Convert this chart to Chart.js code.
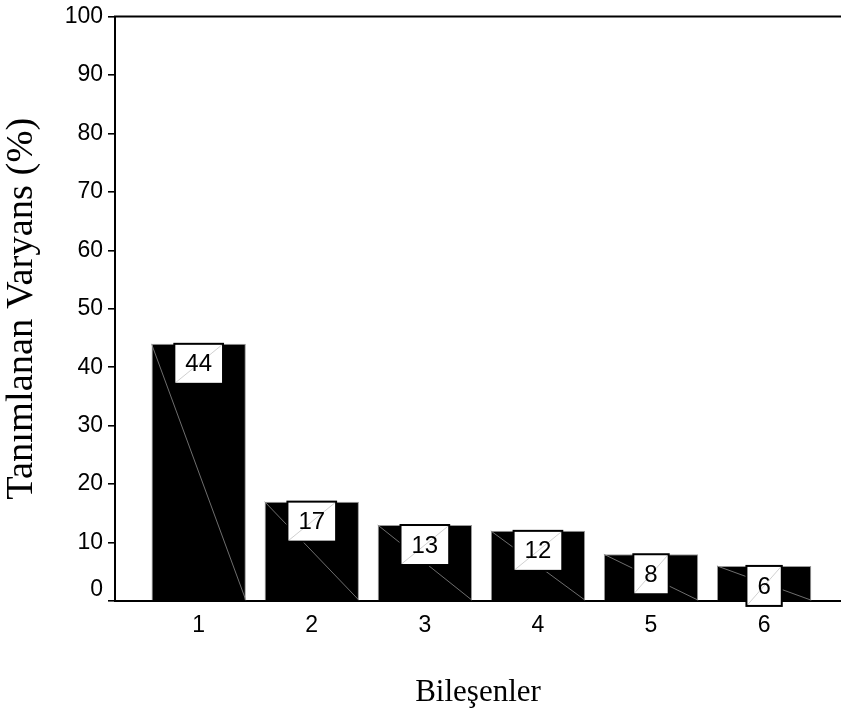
<!DOCTYPE html>
<html>
<head>
<meta charset="utf-8">
<script src="https://cdn.jsdelivr.net/npm/chart.js@4/dist/chart.umd.min.js"></script>
<style>
  html, body { margin: 0; padding: 0; background: #fff; overflow: hidden; }
  #wrap { width: 841px; height: 711px; }
</style>
</head>
<body>
<div id="wrap"><canvas id="c" width="841" height="711"></canvas></div>
<script>
// Bileşen numaraları ve açıklanan varyans yüzdeleri
const components = [1, 2, 3, 4, 5, 6];
const componentLabels = ['1', '2', '3', '4', '5', '6'];
const explainedVariance = [44, 17, 13, 12, 8, 6];
const yTicks = [0, 10, 20, 30, 40, 50, 60, 70, 80, 90, 100];

const xTitle = 'Bileşenler';
const yTitle = 'Tanımlanan Varyans (%)';

const sansFont = "'Liberation Sans', Arial, Helvetica, sans-serif";
const serifFont = "'Liberation Serif', 'Times New Roman', serif";

// Top frame line plus the value boxes and the thin diagonals on the bars
const barDecor = {
  id: 'barDecor',
  afterDatasetsDraw(chart) {
    const ctx = chart.ctx;
    const area = chart.chartArea;
    const meta = chart.getDatasetMeta(0);
    const ds = chart.data.datasets[0];
    ctx.save();

    // diagonal hairline across each bar (top-left to bottom-right)
    meta.data.forEach((bar) => {
      const p = bar.getProps(['x', 'y', 'base', 'width'], true);
      const l = p.x - p.width / 2, r = p.x + p.width / 2;
      ctx.beginPath();
      ctx.strokeStyle = '#8a8a8a';
      ctx.lineWidth = 0.8;
      ctx.moveTo(l, p.y);
      ctx.lineTo(r, p.base);
      ctx.stroke();
    });

    // value boxes hanging from the top of each bar
    ctx.font = '24px ' + sansFont;
    meta.data.forEach((bar, i) => {
      const p = bar.getProps(['x', 'y'], true);
      const txt = String(ds.data[i].y);
      const tw = ctx.measureText(txt).width;
      const w = tw + 22, h = 40;
      const bx = p.x - w / 2, by = p.y;
      ctx.fillStyle = '#fff';
      ctx.fillRect(bx, by, w, h);
      ctx.beginPath();
      ctx.strokeStyle = '#c4c4c4';
      ctx.lineWidth = 0.8;
      ctx.moveTo(bx + 1, by + h - 1);
      ctx.lineTo(bx + w - 1, by + 1);
      ctx.stroke();
      ctx.strokeStyle = '#000';
      ctx.lineWidth = 2;
      ctx.strokeRect(bx, by, w, h);
      ctx.fillStyle = '#000';
      ctx.textAlign = 'center';
      ctx.textBaseline = 'middle';
      ctx.fillText(txt, p.x, by + h / 2 + 1);
    });

    // top frame line
    ctx.beginPath();
    ctx.strokeStyle = '#000';
    ctx.lineWidth = 2;
    ctx.moveTo(area.left - 1, area.top);
    ctx.lineTo(area.right, area.top);
    ctx.stroke();
    ctx.restore();
  }
};

new Chart(document.getElementById('c'), {
  type: 'bar',
  data: {
    datasets: [{
      data: components.map((c, i) => ({ x: c, y: explainedVariance[i] })),
      backgroundColor: '#000',
      borderColor: '#9a9a9a',
      borderWidth: 1,
      borderSkipped: 'bottom',
      categoryPercentage: 1,
      barPercentage: 0.834
    }]
  },
  options: {
    responsive: false,
    animation: false,
    events: [],
    layout: { padding: { top: 12, left: 0, right: 0, bottom: 0 } },
    plugins: { legend: { display: false }, tooltip: { enabled: false } },
    scales: {
      x: {
        type: 'linear',
        offset: false,
        min: 0.26,
        max: 6.68,
        afterBuildTicks: (scale) => { scale.ticks = components.map(v => ({ value: v })); },
        afterFit: (scale) => { scale.height = 110; },
        grid: { display: false, drawTicks: false },
        border: { display: true, color: '#000', width: 2 },
        ticks: {
          padding: 13,
          color: '#000',
          font: { family: sansFont, size: 23, lineHeight: 1.0 },
          callback: (v) => {
            const i = components.indexOf(v);
            return i >= 0 ? componentLabels[i] : '';
          }
        },
        title: {
          display: true,
          text: xTitle,
          color: '#000',
          font: { family: serifFont, size: 31, lineHeight: 1.2 },
          padding: { top: 0, bottom: 0 }
        }
      },
      y: {
        min: 0,
        max: 100,
        afterBuildTicks: (scale) => { scale.ticks = yTicks.map(v => ({ value: v })); },
        afterFit: (scale) => { scale.width = 115; },
        grid: {
          drawOnChartArea: false,
          drawTicks: true,
          tickLength: 7,
          color: '#000',
          lineWidth: 1.6
        },
        border: { display: true, color: '#000', width: 2 },
        ticks: {
          padding: 5,
          color: '#000',
          font: { family: sansFont, size: 23, lineHeight: 1.0 },
          callback: (v) => (v === 0 ? ['0', ''] : String(v))
        },
        title: {
          display: true,
          text: yTitle,
          color: '#000',
          font: { family: serifFont, size: 38.5, lineHeight: 1.15 },
          padding: { top: 0, bottom: 0 }
        }
      }
    }
  },
  plugins: [barDecor]
});
</script>
</body>
</html>
